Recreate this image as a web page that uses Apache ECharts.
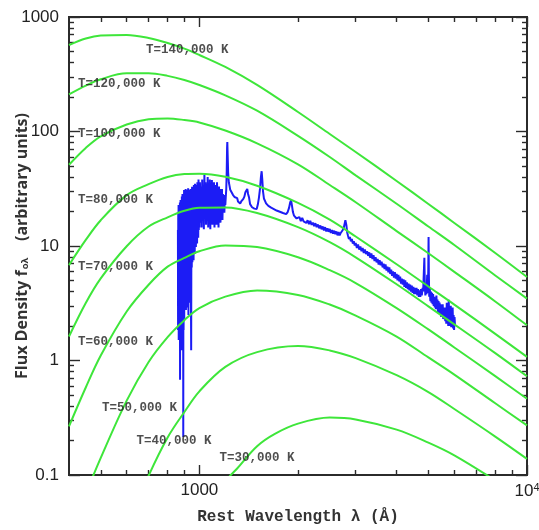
<!DOCTYPE html>
<html><head><meta charset="utf-8">
<script src="https://cdn.jsdelivr.net/npm/echarts@6/dist/echarts.min.js"></script>
<style>html,body{margin:0;padding:0;background:#fff}#c{width:539px;height:530px}</style>
</head><body><div id="c"></div>
<script>
// ---- axis ticks / labels ----
const xMajorTicks = [1000, 10000];
const xMinorTicks = [500, 600, 700, 800, 900, 2000, 3000, 4000, 5000, 6000, 7000, 8000, 9000];
const yMajorTicks = [0.1, 1, 10, 100, 1000];
const yMinorTicks = [0.2,0.3,0.4,0.5,0.6,0.7,0.8,0.9,2,3,4,5,6,7,8,9,20,30,40,50,60,70,80,90,200,300,400,500,600,700,800,900];
const xTickText = {1000: '1000', 10000: '10{sup|4}'};
const yTickText = {0.1: '0.1', 1: '1', 10: '10', 100: '100', 1000: '1000'};

// ---- blackbody curves ----
const bbLambda = [400,450,500,600,700,800,900,1000,1200,1500,2000,2500,3000,4000,5000,6000,8000,10000];
const bb140 = [569,649,689,696,656,593,530,466,366,255,148,95.1,66.2,37.0,23.3,15.9,8.69,5.36];
const bb120 = [211,252,286,322,322,306,282,255,207,152,91.7,59.9,41.4,23.4,14.8,10.2,5.53,3.47];
const bb100 = [51.3,71.9,90.8,115,128,130,126,120,102,78.9,51.7,34.1,24.1,13.5,8.65,5.95,3.28,2.03];
const bb80  = [6.81,11.3,16.8,27.8,34.7,40.1,42.5,42.8,40.2,33.6,23.8,17.0,12.1,6.93,4.43,3.08,1.71,1.075];
const bb70  = [1.62,3.18,5.22,9.96,14.8,17.8,20.3,21.6,21.7,19.4,14.6,10.8,7.97,4.63,2.97,2.07,1.16,0.728];
const bb60  = [0.266,0.581,1.106,2.68,4.59,6.60,7.87,8.99,10.1,9.78,7.97,6.15,4.75,2.87,1.87,1.30,0.731,0.463];
const bb50Lambda = [450,500,600,700,800,900,1000,1200,1500,2000,2500,3000,4000,5000,6000,8000,10000];
const bb50  = [0.0683,0.141,0.446,0.970,1.60,2.25,2.87,3.61,4.08,3.74,3.08,2.47,1.62,1.064,0.753,0.423,0.271];
const bb40Lambda = [600,700,800,900,1000,1200,1500,2000,2500,3000,4000,5000,6000,8000,10000];
const bb40  = [0.0352,0.0987,0.2126,0.355,0.538,0.879,1.184,1.336,1.225,1.049,0.744,0.530,0.377,0.2165,0.1382];
const bb30Lambda = [1000,1200,1300,1500,1700,2000,2500,3000,4000,5000,6000,8000,10000];
const bb30  = [0.0361,0.0876,0.1128,0.1785,0.229,0.2811,0.3172,0.3059,0.2491,0.1919,0.1486,0.0897,0.0586];

const tempNames = ['T=140,000 K','T=120,000 K','T=100,000 K','T=80,000 K','T=70,000 K','T=60,000 K','T=50,000 K','T=40,000 K','T=30,000 K'];
const labelLambda = [687, 426, 426, 426, 426, 426, 504, 643, 1152];
const labelFlux   = [515, 260, 95.1, 25.2, 6.56, 1.465, 0.385, 0.198, 0.1408];

// ---- quasar spectrum ----
const specForest = [[860,13.8],[861,1.85],[862,19.5],[863,3.38],[864,22.8],[865,1.51],[866,18.7],[867,2.76],[868,22.8],[869,1.51],[870,16.9],[871,4.13],[872,24.0],[873,0.68],[874,20.6],[875,2.26],[876,25.2],[877,1.51],[878,19.5],[879,3.38],[880,25.2],[881,1.85],[882,18.7],[883,2.76],[884,27.0],[885,1.23],[886,22.8],[887,3.8],[888,28.5],[889,2.26],[890,20.6],[891,1.51],[892,27.0],[893,0.215],[894,25.2],[895,1.85],[896,22.8],[897,3.38],[898,30.8],[899,2.26],[900,24.0],[902,2.76],[904,28.5],[906,3.38],[908,31.5],[910,2.76],[912,25.2],[914,3.8],[916,30.8],[918,2.9],[920,27.0],[922,3.38],[924,32],[926,2.5],[928,28.5],[930,4.13],[932,30.8],[934,3.2],[936,26.5],[938,3.8],[940,31.5],[942,5.5],[944,1.23],[946,29.5],[948,6.5],[950,33],[952,7.2],[954,28.5],[956,8.2],[958,31.5],[960,7.5],[962,34.1],[964,9.2],[966,27.9],[968,8.5],[970,35],[972,10.5],[974,29.5],[976,9.8],[978,34.1],[980,11.3],[982,30.8],[984,10.5],[986,36],[988,12.5],[990,31.5],[992,11.8],[994,38],[996,13.8],[998,32]];
const specLya = [[1000,14.5],[1004,36],[1008,16.0],[1012,33],[1016,14.5],[1020,38],[1024,17.5],[1028,31.5],[1032,14.0],[1036,41.7],[1040,18.7],[1044,36],[1048,15.3],[1052,33],[1056,19.5],[1060,40],[1064,14.5],[1068,34.1],[1072,17.5],[1076,38],[1080,14.0],[1084,33],[1088,19.5],[1092,37.7],[1096,15.3],[1100,31.5],[1104,20.6],[1108,36],[1112,14.5],[1116,33],[1120,18.7],[1124,34.1],[1128,15.3],[1132,36],[1136,19.5],[1140,30.8],[1144,14.5],[1148,33],[1152,17.5],[1156,31.5],[1160,16.0],[1164,29.5],[1168,19.5],[1172,31.5],[1176,16.9],[1180,28.5],[1184,20.6],[1188,27.9],[1192,19.5],[1196,26.5],[1200,22.8],[1204,27.0],[1208,31.5],[1212,45],[1215,72],[1217,81],[1220,62],[1224,44],[1230,36]];
const specUV = [[1236,33.5],[1242,31],[1248,31.5],[1254,29.5],[1260,30],[1266,28],[1272,28.8],[1280,26.8],[1288,27.5],[1296,25.8],[1304,26.2],[1312,24.5],[1322,25.2],[1332,23.5],[1342,24.5],[1352,23.8],[1362,25.8],[1372,27.0],[1382,29.5],[1392,30.5],[1400,31.5],[1408,28.5],[1418,26.5],[1428,23.2],[1438,22.8],[1448,21.8],[1460,22.4],[1472,21.2],[1484,21.9],[1496,21.0],[1508,23.0],[1520,26.5],[1532,32],[1541,40],[1549,45],[1556,38],[1564,30],[1574,26],[1586,24.8],[1598,23.6],[1610,23.8],[1624,22.4],[1640,22.9],[1656,21.6],[1672,22.2],[1688,21.0],[1704,21.5],[1720,20.4],[1740,21.0],[1760,19.9],[1780,20.5],[1800,19.4],[1820,19.9],[1840,19.0],[1860,19.8],[1878,21.5],[1893,24],[1905,25],[1917,22.5],[1930,19.8],[1945,18.4],[1960,18.0],[1980,17.4],[2000,17.9]];
const specOptical = [[2020,17.9],[2040,16.5],[2060,17.6],[2080,16.4],[2100,17.0],[2120,15.9],[2140,16.8],[2160,15.5],[2180,16.6],[2200,15.3],[2220,16.0],[2240,14.9],[2260,15.8],[2280,14.6],[2300,15.4],[2320,14.3],[2340,15.1],[2360,14.0],[2380,14.8],[2400,13.7],[2420,14.6],[2440,13.4],[2460,14.3],[2480,13.3],[2500,14.1],[2520,13.0],[2540,13.8],[2560,12.8],[2580,13.6],[2600,12.7],[2620,13.4],[2640,12.4],[2660,13.2],[2680,12.4],[2700,13.0],[2720,12.6],[2740,13.8],[2760,14.5],[2780,16.0],[2790,16.8],[2800,17.0],[2810,15.2],[2825,13.2],[2840,12.4],[2860,11.5],[2880,12.0],[2900,11.0],[2920,11.5],[2940,10.5],[2960,11.0],[2980,10.1],[3000,10.6],[3025,9.6],[3050,10.3],[3075,9.3],[3100,9.9],[3125,9.0],[3150,9.6],[3175,8.7],[3200,9.3],[3225,8.5],[3250,9.0],[3275,8.2],[3300,8.8],[3325,7.9],[3350,8.6],[3375,7.7],[3400,8.3],[3425,7.4],[3450,8.0],[3475,7.2],[3500,7.7],[3525,6.9],[3550,7.5],[3575,6.8],[3600,7.3],[3625,6.5],[3650,7.0],[3675,6.3],[3700,6.9],[3725,6.1],[3750,6.6],[3775,5.9],[3800,6.5],[3825,5.7],[3850,6.2],[3875,5.5],[3900,6.0],[3925,5.3],[3950,5.9],[3975,5.2],[4000,5.7],[4025,5.0],[4050,5.6],[4075,4.9],[4100,5.4],[4125,4.7],[4150,5.2],[4175,4.6],[4200,5.1],[4225,4.4],[4250,5.0],[4275,4.3],[4300,4.8],[4325,4.2],[4350,4.7],[4375,4.1],[4400,4.6],[4425,4.0],[4450,4.5],[4475,3.9],[4500,4.4],[4525,3.8],[4550,4.3],[4575,3.8],[4600,4.3],[4625,3.7],[4650,4.2],[4675,3.6],[4700,4.1],[4725,3.6],[4750,4.2],[4775,3.7],[4800,4.3],[4820,4.0],[4840,5.6],[4861,7.9],[4875,4.8],[4895,3.7],[4915,4.3],[4935,3.8],[4950,4.9],[4959,5.6],[4970,4.2],[4985,3.9],[4997,6.5],[5007,12.0],[5017,5.8],[5030,3.6],[5050,4.3],[5070,3.3],[5090,4.0],[5110,3.2],[5130,3.9],[5150,3.1],[5170,3.8],[5190,3.0],[5210,3.6],[5230,2.9],[5250,3.5],[5270,2.8],[5290,3.7],[5310,2.8],[5330,3.4],[5350,2.6],[5370,3.3],[5390,2.6],[5410,3.2],[5430,2.5],[5450,3.1],[5470,2.4],[5490,3.0],[5510,2.4],[5530,3.1],[5550,2.3],[5570,2.9],[5590,2.3],[5610,2.8],[5630,2.2],[5650,2.9],[5670,2.1],[5690,3.2],[5710,2.2],[5730,2.7],[5750,2.0],[5770,3.4],[5790,2.1],[5810,2.8],[5830,2.0],[5850,3.0],[5870,1.95],[5890,2.7],[5910,2.0],[5930,2.9],[5950,1.9],[5970,2.5],[5990,1.85],[6010,2.4],[6030,2.0]];

// ---- build ----
const zip = (xs, ys) => xs.map((x, i) => [x, ys[i]]);
const curves = [
  zip(bbLambda, bb140), zip(bbLambda, bb120), zip(bbLambda, bb100), zip(bbLambda, bb80),
  zip(bbLambda, bb70), zip(bbLambda, bb60), zip(bb50Lambda, bb50), zip(bb40Lambda, bb40), zip(bb30Lambda, bb30)
];
const spectrum = specForest.concat(specLya, specUV, specOptical);

const INK = '#2b2b2b';
const G = {left: 69, right: 12, top: 17, bottom: 55, containLabel: false, outerBoundsMode: 'none'};
function xAx(grid, pos, ticks, len, labels) {
  return {
    gridIndex: grid, type: 'log', logBase: 10, min: 400, max: 10000, position: pos,
    axisLine: {show: false}, splitLine: {show: false}, minorTick: {show: false},
    axisTick: {show: true, inside: true, length: len, customValues: ticks, lineStyle: {color: INK, width: 1.4}},
    axisLabel: labels ? {
      show: true, customValues: xMajorTicks, margin: 7, color: '#222', fontSize: 17,
      fontFamily: 'Liberation Sans', hideOverlap: false,
      formatter: v => xTickText[Math.round(v)] || '',
      rich: {sup: {fontSize: 11, verticalAlign: 'top', color: '#222', fontFamily: 'Liberation Sans', padding: [0,0,8,0]}}
    } : {show: false}
  };
}
function yAx(grid, pos, ticks, len, labels) {
  return {
    gridIndex: grid, type: 'log', logBase: 10, min: 0.1, max: 1000, position: pos,
    axisLine: {show: false}, splitLine: {show: false}, minorTick: {show: false},
    axisTick: {show: true, inside: true, length: len, customValues: ticks, lineStyle: {color: INK, width: 1.4}},
    axisLabel: labels ? {
      show: true, customValues: yMajorTicks, margin: 10, color: '#222', fontSize: 17,
      fontFamily: 'Liberation Sans', hideOverlap: false,
      formatter: v => { for (const k of yMajorTicks) { if (Math.abs(v - k) / k < 1e-6) return yTickText[k]; } return ''; }
    } : {show: false}
  };
}

const xs = [xAx(0,'bottom',xMajorTicks,10,true), xAx(0,'top',xMajorTicks,10,false), xAx(1,'bottom',xMinorTicks,5,false), xAx(1,'top',xMinorTicks,5,false)];
const ys = [yAx(0,'left',yMajorTicks,11,true), yAx(0,'right',yMajorTicks,11,false), yAx(1,'left',yMinorTicks,5,false), yAx(1,'right',yMinorTicks,5,false)];
xs[0].name = 'Rest Wavelength λ (Å)';
xs[0].nameLocation = 'middle';
xs[0].nameGap = 34;
xs[0].nameMoveOverlap = false;
xs[0].nameTextStyle = {fontFamily: 'Liberation Mono', fontWeight: 'bold', fontSize: 16, color: '#333'};
ys[0].name = 'Flux Density f{sub|oλ}    (arbitrary units)';
ys[0].nameLocation = 'middle';
ys[0].nameGap = 39;
ys[0].nameMoveOverlap = false;
ys[0].nameTextStyle = {fontFamily: 'Open Sans', fontWeight: 'bold', fontSize: 16, color: '#333',
  rich: {sub: {fontFamily: 'Open Sans', fontWeight: 'bold', fontSize: 9.5, color: '#333', verticalAlign: 'bottom', padding: [6,0,0,1]}}};

const series = [];
series.push({
  type: 'line', xAxisIndex: 0, yAxisIndex: 0, data: spectrum, showSymbol: false, symbol: 'none',
  lineStyle: {color: '#1c1cf5', width: 2}, clip: true, z: 2, silent: true, animation: false
});
curves.forEach(c => series.push({
  type: 'line', xAxisIndex: 0, yAxisIndex: 0, data: c, smooth: 0.35, showSymbol: false, symbol: 'none',
  lineStyle: {color: '#3ee63a', width: 2}, clip: true, z: 3, silent: true, animation: false
}));
series.push({
  type: 'scatter', xAxisIndex: 0, yAxisIndex: 0, symbolSize: 0, silent: true, animation: false, z: 5,
  data: tempNames.map((n, i) => ({value: [labelLambda[i], labelFlux[i]], name: n})),
  label: {show: true, position: 'right', distance: 0, formatter: p => p.name,
    fontFamily: 'Liberation Mono', fontWeight: 'bold', fontSize: 12.5, color: '#222'}
});

const chart = echarts.init(document.getElementById('c'), null, {renderer: 'canvas'});
chart.setOption({
  animation: false, backgroundColor: '#fff',
  grid: [
    Object.assign({show: true, borderColor: INK, borderWidth: 2, backgroundColor: 'transparent'}, G),
    Object.assign({show: false}, G)
  ],
  xAxis: xs, yAxis: ys, series: series
});
</script></body></html>
